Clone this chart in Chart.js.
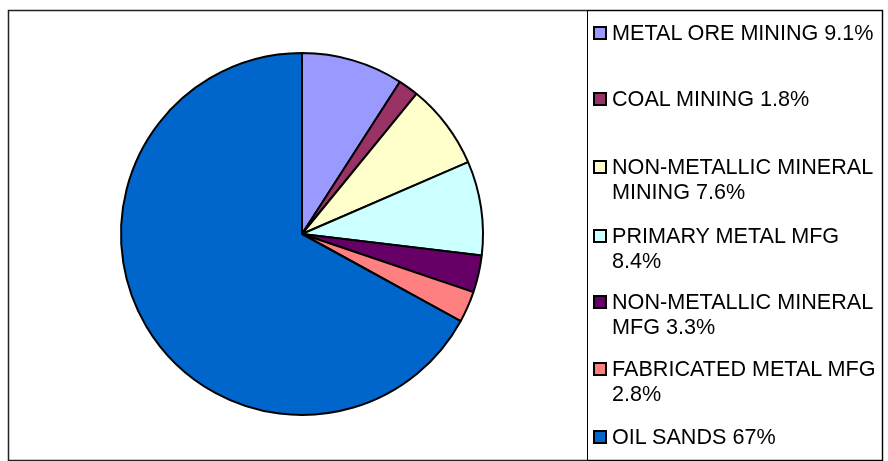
<!DOCTYPE html>
<html>
<head>
<meta charset="utf-8">
<script src="https://cdn.jsdelivr.net/npm/chart.js@4/dist/chart.umd.min.js"></script>
<style>
  html, body { margin: 0; padding: 0; background: #fff; }
  #wrap { position: relative; width: 888px; height: 461px; }
  #myChart { position: absolute; left: 0; top: 0; }
  #legend {
    position: absolute; left: 587px; top: 10px; width: 295px; height: 450px;
    font-family: "Liberation Sans", Arial, sans-serif; font-size: 21.6px; color: #000;
  }
  .item { position: absolute; left: 6px; right: 0; line-height: 25px; padding-left: 19px; white-space: pre; }
  .box {
    position: absolute; left: 0; top: 6px; width: 10px; height: 10px;
    border: 2px solid #000;
  }
</style>
</head>
<body>
<div id="wrap">
  <canvas id="myChart" width="888" height="461"></canvas>
  <div id="legend"></div>
</div>
<script>
  const categories = [
    "METAL ORE MINING",
    "COAL MINING",
    "NON-METALLIC MINERAL MINING",
    "PRIMARY METAL MFG",
    "NON-METALLIC MINERAL MFG",
    "FABRICATED METAL MFG",
    "OIL SANDS"
  ]
  const shares = [9.1, 1.8, 7.6, 8.4, 3.3, 2.8, 67]
  const shareLabels = ["9.1%", "1.8%", "7.6%", "8.4%", "3.3%", "2.8%", "67%"]
  const colors = ["#9999FF", "#993366", "#FFFFCC", "#CCFFFF", "#660066", "#FF8080", "#0066CC"]

  // legend text as laid out in the picture (line breaks where the box wraps)
  const legendLines = [
    ["METAL ORE MINING 9.1%"],
    ["COAL MINING 1.8%"],
    ["NON-METALLIC MINERAL", "MINING 7.6%"],
    ["PRIMARY METAL MFG", "8.4%"],
    ["NON-METALLIC MINERAL", "MFG 3.3%"],
    ["FABRICATED METAL MFG", "2.8%"],
    ["OIL SANDS 67%"]
  ]
  const legendTops = [9.5, 75.5, 144, 212.5, 279, 345.5, 413.5]

  function buildLegend() {
    const legend = document.getElementById("legend")
    legendLines.forEach((lines, i) => {
      const div = document.createElement("div")
      div.className = "item"
      div.style.top = legendTops[i] + "px"
      const box = document.createElement("span")
      box.className = "box"
      box.style.background = colors[i]
      div.appendChild(box)
      div.appendChild(document.createTextNode(lines.join("\n")))
      legend.appendChild(div)
    })
  }

  // frame round the whole chart and the legend box
  const framePlugin = {
    id: "frame",
    beforeDraw(c) {
      const ctx = c.ctx
      ctx.save()
      ctx.fillStyle = "#fff"
      ctx.fillRect(0, 0, c.width, c.height)
      ctx.strokeStyle = "#222"
      ctx.lineWidth = 1.5
      ctx.strokeRect(8.5, 10.5, 874, 450)
      ctx.strokeStyle = "#000"
      ctx.lineWidth = 1
      ctx.strokeRect(587.5, 10.5, 295, 450)
      ctx.restore()
    }
  }

  const ctx = document.getElementById("myChart").getContext("2d")
  const chart = new Chart(ctx, {
    type: "pie",
    data: {
      labels: categories,
      datasets: [{
        data: shares,
        backgroundColor: colors,
        borderColor: "#000",
        borderWidth: 2
      }]
    },
    options: {
      responsive: false,
      animation: false,
      layout: { padding: { left: 120, top: 52, right: 404, bottom: 45 } },
      plugins: {
        legend: { display: false },
        tooltip: { enabled: false }
      }
    },
    plugins: [framePlugin]
  })

  buildLegend()
</script>
</body>
</html>
